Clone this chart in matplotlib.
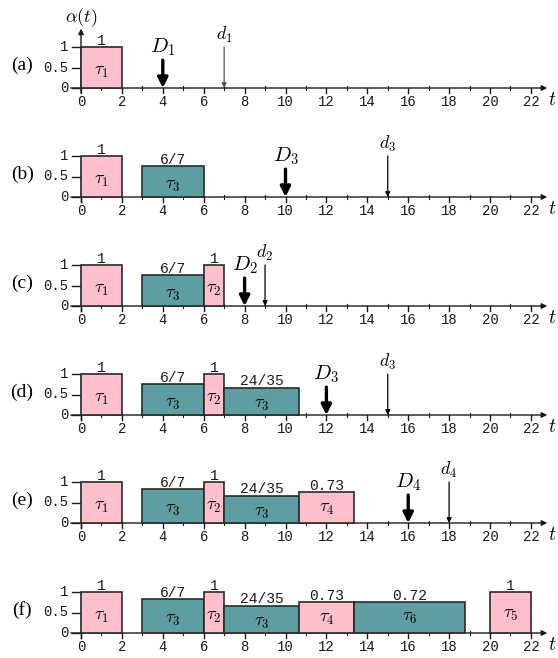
import matplotlib
matplotlib.use("Agg")
import matplotlib.pyplot as plt

plt.rcParams['mathtext.fontset'] = 'cm'

# ---------------- data ----------------
panel_labels = ['(a)', '(b)', '(c)', '(d)', '(e)', '(f)']
x_ticks = list(range(0, 23, 2))
x_minor = list(range(1, 23, 2))
y_ticks = [0, 0.5, 1]
y_tick_labels = ['0', '0.5', '1']

# per panel: task index, start, end, height, text above bar
bar_task = [
    [1],
    [1, 3],
    [1, 3, 2],
    [1, 3, 2, 3],
    [1, 3, 2, 3, 4],
    [1, 3, 2, 3, 4, 6, 5],
]
bar_start = [
    [0],
    [0, 3],
    [0, 3, 6],
    [0, 3, 6, 7],
    [0, 3, 6, 7, 10.67],
    [0, 3, 6, 7, 10.67, 13.33, 20],
]
bar_end = [
    [2],
    [2, 6],
    [2, 6, 7],
    [2, 6, 7, 10.67],
    [2, 6, 7, 10.67, 13.33],
    [2, 6, 7, 10.67, 13.33, 18.8, 22],
]
bar_height = [
    [1.0],
    [1.0, 0.75],
    [1.0, 0.75, 1.0],
    [1.0, 0.75, 1.0, 0.67],
    [1.0, 0.83, 1.0, 0.67, 0.75],
    [1.0, 0.83, 1.0, 0.67, 0.75, 0.75, 1.0],
]
bar_text = [
    ['1'],
    ['1', '6/7'],
    ['1', '6/7', '1'],
    ['1', '6/7', '1', '24/35'],
    ['1', '6/7', '1', '24/35', '0.73'],
    ['1', '6/7', '1', '24/35', '0.73', '0.72', '1'],
]
# deadlines: D (bold arrow) and d (thin arrow) per panel
D_task = [1, 3, 2, 3, 4, None]
D_time = [4, 10, 8, 12, 16, None]
d_task = [1, 3, 2, 3, 4, None]
d_time = [7, 15, 9, 15, 18, None]

pink = '#FFC0CB'
teal = '#5F9EA0'
task_color = {1: pink, 2: pink, 4: pink, 5: pink, 3: teal, 6: teal}
label_frac = {1: 0.41, 2: 0.41, 3: 0.4, 4: 0.5, 5: 0.47, 6: 0.52}

# ---------------- layout ----------------
W, H = 558, 658
fig = plt.figure(figsize=(W / 100, H / 100), dpi=100)
x0_px, ppu_x = 81.0, 20.45
ppu_y = 41.0
base_px = [88, 197, 306, 415, 523, 633]
above_px, below_px = 88, 21

mono = 'Liberation Mono'
ink = '#1a1a1a'

for i, y0 in enumerate(base_px):
    top = y0 - above_px
    bot = y0 + below_px
    ax = fig.add_axes([0, 1 - bot / H, 1, (bot - top) / H])
    ax.set_xlim(-x0_px / ppu_x, (W - x0_px) / ppu_x)
    ax.set_ylim(-below_px / ppu_y, above_px / ppu_y)
    ax.axis('off')

    # x axis with arrow
    ax.annotate('', xy=(22.8, 0), xytext=(-0.5, 0),
                arrowprops=dict(arrowstyle='-|>', lw=1.0, color=ink,
                                mutation_scale=8, shrinkA=0, shrinkB=0),
                zorder=1)
    # y axis
    if i == 0:
        ax.annotate('', xy=(0, 1.45), xytext=(0, -0.12),
                    arrowprops=dict(arrowstyle='-|>', lw=1.0, color=ink,
                                    mutation_scale=8, shrinkA=0, shrinkB=0),
                    zorder=1)
        ax.text(0, 1.72, r'$\alpha(t)$', ha='center', va='center', fontsize=13)
    else:
        ax.plot([0, 0], [-0.12, 1.0], color=ink, lw=1.0, zorder=1)

    # ticks
    for xt in x_ticks:
        ax.plot([xt, xt], [0, -0.11], color=ink, lw=1.0, zorder=1)
        ax.text(xt, -0.17, str(xt), ha='center', va='top', fontsize=10,
                family=mono, color=ink)
    for xm in x_minor:
        ax.plot([xm, xm], [-0.05, 0.06], color=ink, lw=0.8, zorder=1)
    for yt, yl in zip(y_ticks, y_tick_labels):
        ax.plot([-0.45, 0], [yt, yt], color=ink, lw=1.0, zorder=1)
        ax.text(-0.62, yt, yl, ha='right', va='center', fontsize=10,
                family=mono, color=ink)

    ax.text(22.85, -0.27, r'$t$', ha='left', va='center', fontsize=14)
    ax.text(-2.88, 0.55, panel_labels[i], ha='center', va='center',
            fontsize=14, family='Liberation Serif')

    # bars
    for tk, s, e, h, tx in zip(bar_task[i], bar_start[i], bar_end[i],
                               bar_height[i], bar_text[i]):
        ax.bar(s, h, width=e - s, align='edge', color=task_color[tk],
               edgecolor='#2a2a2a', linewidth=1.2, zorder=2)
        ax.text((s + e) / 2, h * label_frac[tk], r'$\tau_{%d}$' % tk,
                ha='center', va='center', fontsize=13, zorder=3)
        ax.text((s + e) / 2, h + 0.05, tx, ha='center', va='baseline',
                fontsize=10.5, family=mono, color=ink, zorder=3)

    # deadline arrows
    if D_time[i] is not None:
        ax.annotate('', xy=(D_time[i], 0.0), xytext=(D_time[i], 0.68),
                    arrowprops=dict(arrowstyle='-|>', lw=2.4, color='black',
                                    mutation_scale=15, shrinkA=0, shrinkB=0),
                    zorder=3)
        ax.text(D_time[i], 0.74, r'$D_{%d}$' % D_task[i], ha='center',
                va='bottom', fontsize=15)
    if d_time[i] is not None:
        dcol = '#555555' if i == 0 else 'black'
        ax.annotate('', xy=(d_time[i], 0.0), xytext=(d_time[i], 1.0),
                    arrowprops=dict(arrowstyle='-|>', lw=0.9, color=dcol,
                                    mutation_scale=7, shrinkA=0, shrinkB=0),
                    zorder=3)
        ax.text(d_time[i], 1.06, r'$d_{%d}$' % d_task[i], ha='center',
                va='bottom', fontsize=13)

fig.savefig('out.png', dpi=100)
